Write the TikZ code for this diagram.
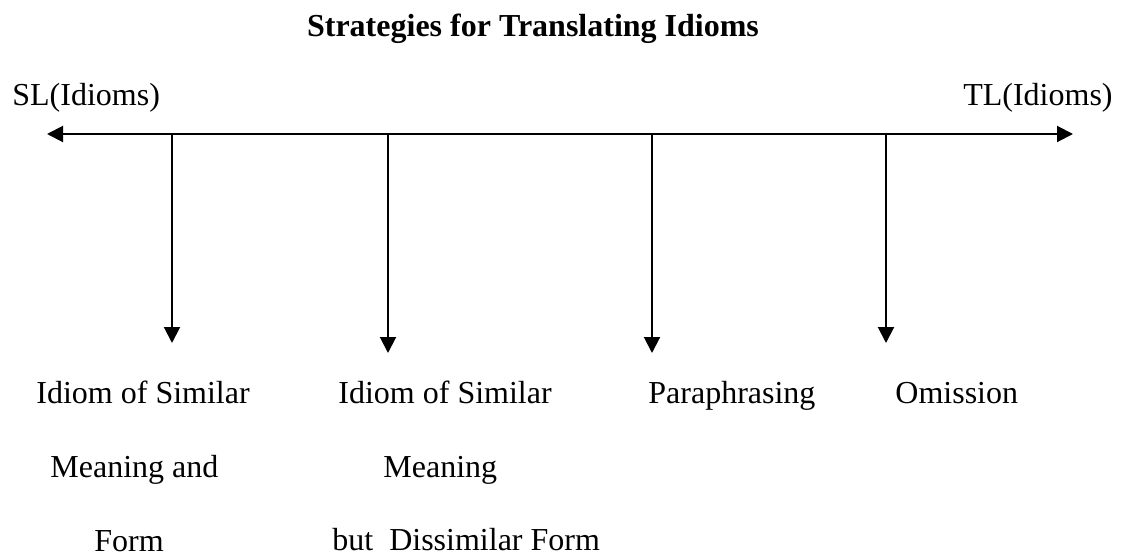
\documentclass[tikz,border=0pt]{standalone}
\usepackage{fontspec}
\setmainfont{Liberation Serif}
\usetikzlibrary{positioning,arrows.meta}

\begin{document}
\begin{tikzpicture}[x=0.5pt,y=-0.5pt,
  lbl/.style={inner sep=0pt,anchor=base west,font=\fontsize{16}{19}\selectfont},
  axis/.style={line width=1pt,{Triangle[length=8pt,width=8pt]}-{Triangle[length=8pt,width=8pt]}},
  branch/.style={line width=1pt,-{Triangle[length=8pt,width=8pt]}}]
\useasboundingbox (0,0) rectangle (1124,557);
% title and ends of the axis
\node[lbl,anchor=base,font=\fontsize{16}{19}\selectfont\bfseries] (title) at (533,36) {Strategies for Translating Idioms};
\node[lbl] (sl) at (12,105) {SL(Idioms)};
\node[lbl,anchor=base east] (tl) at (1113,105) {TL(Idioms)};
\coordinate (left) at (47,134);
\coordinate (right) at (1073,134);
\draw[axis] (left) -- (right);
% branches: x / tip
\foreach \x/\y [count=\i] in {172/343,388/353,652/353,886/343}{
  \coordinate (top\i) at (\x,134);
  \coordinate (tip\i) at (\x,\y);
  \draw[branch] (top\i) -- (tip\i);
}
% strategies
\node[lbl] (s1a) at (36,403) {Idiom of Similar};
\node[lbl] (s1b) at (50,477) {Meaning and};
\node[lbl] (s1c) at (94,551) {Form};
\node[lbl] (s2a) at (338,403) {Idiom of Similar};
\node[lbl] (s2b) at (383,477) {Meaning};
\node[lbl] (s2c) at (332,550) {but\ \ Dissimilar Form};
\node[lbl] (s3) at (648,403) {Paraphrasing};
\node[lbl] (s4) at (895,403) {Omission};
\end{tikzpicture}
\end{document}
